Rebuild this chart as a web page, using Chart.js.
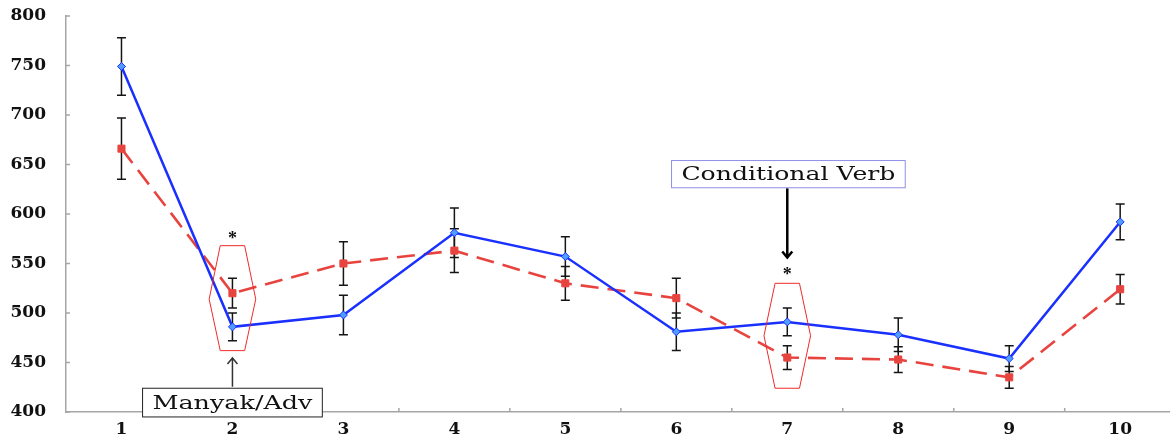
<!DOCTYPE html>
<html>
<head>
<meta charset="utf-8">
<title>Reading times</title>
<script src="https://cdn.jsdelivr.net/npm/chart.js@4"></script>
<style>
  html, body { margin: 0; padding: 0; background: #fff; }
  #wrap { width: 1175px; height: 440px; }
</style>
</head>
<body>
<div id="wrap"><canvas id="myChart" width="1175" height="440"></canvas></div>
<script>
// values
var categories = ['1', '2', '3', '4', '5', '6', '7', '8', '9', '10'];
var blueValues = [749, 486, 498, 581, 557, 481, 491, 478, 454, 592];
var blueErrors = [29, 14, 20, 25, 20, 19, 14, 17, 13, 18];
var redValues  = [666, 520, 550, 563, 530, 515, 455, 453, 435, 524];
var redErrors  = [31, 15, 22, 22, 17, 20, 12, 13, 11, 15];
var yTicks = [400, 450, 500, 550, 600, 650, 700, 750, 800];

var BLUE = '#1a30ff';
var RED = '#e8443f';

function toPoints(vals) {
    return vals.map(function (v, i) { return { x: i + 1, y: v }; });
}

// draws text stretched horizontally to a given width (the glyphs are wide in the original)
function wideText(ctx, txt, cx, cy, width) {
    var w = ctx.measureText(txt).width;
    ctx.save();
    ctx.translate(cx, cy);
    ctx.scale(width / w, 1);
    ctx.textAlign = 'center';
    ctx.textBaseline = 'middle';
    ctx.fillText(txt, 0, 0);
    ctx.restore();
}

var extras = {
    id: 'extras',
    beforeDatasetsDraw: function (chart) {
        var ctx = chart.ctx, xs = chart.scales.x, ys = chart.scales.y;
        var area = chart.chartArea;
        ctx.save();
        // inward tick marks
        ctx.strokeStyle = '#a6a6a6';
        ctx.lineWidth = 1.5;
        ctx.beginPath();
        yTicks.forEach(function (t) {
            var y = ys.getPixelForValue(t);
            ctx.moveTo(area.left, y); ctx.lineTo(area.left + 4, y);
        });
        for (var k = 1; k < categories.length; k++) {
            var x = xs.getPixelForValue(k + 0.5);
            ctx.moveTo(x, area.bottom); ctx.lineTo(x, area.bottom - 4);
        }
        ctx.stroke();

        // error bars
        ctx.strokeStyle = '#151515';
        ctx.lineWidth = 1.5;
        [[blueValues, blueErrors], [redValues, redErrors]].forEach(function (s) {
            s[0].forEach(function (v, i) {
                var x = xs.getPixelForValue(i + 1);
                var yt = ys.getPixelForValue(v + s[1][i]);
                var yb = ys.getPixelForValue(v - s[1][i]);
                ctx.beginPath();
                ctx.moveTo(x, yt); ctx.lineTo(x, yb);
                ctx.moveTo(x - 4.5, yt); ctx.lineTo(x + 4.5, yt);
                ctx.moveTo(x - 4.5, yb); ctx.lineTo(x + 4.5, yb);
                ctx.stroke();
            });
        });
        ctx.restore();
    },
    afterDatasetsDraw: function (chart) {
        var ctx = chart.ctx, xs = chart.scales.x, ys = chart.scales.y;
        var X = function (v) { return xs.getPixelForValue(v); };
        var Y = function (v) { return ys.getPixelForValue(v); };
        ctx.save();

        // red hexagons around the significant points
        function hexagon(xc, yTop, yMid, yBot) {
            ctx.beginPath();
            ctx.moveTo(X(xc - 0.11), Y(yTop));
            ctx.lineTo(X(xc + 0.11), Y(yTop));
            ctx.lineTo(X(xc + 0.21), Y(yMid));
            ctx.lineTo(X(xc + 0.11), Y(yBot));
            ctx.lineTo(X(xc - 0.11), Y(yBot));
            ctx.lineTo(X(xc - 0.21), Y(yMid));
            ctx.closePath();
            ctx.strokeStyle = '#f02a2a';
            ctx.lineWidth = 1;
            ctx.stroke();
        }
        hexagon(2, 568, 514, 462);
        hexagon(7, 530, 477, 424);

        // asterisks
        ctx.fillStyle = '#111';
        ctx.font = 'bold 18px "Liberation Serif"';
        ctx.textAlign = 'center';
        ctx.textBaseline = 'middle';
        ctx.fillText('*', X(2), Y(574));
        ctx.fillText('*', X(7), Y(538));

        // arrows
        function arrow(xc, yFrom, yTo, w, color) {
            var x = X(xc), y0 = Y(yFrom), y1 = Y(yTo);
            var dir = y1 < y0 ? 1 : -1;
            ctx.strokeStyle = color;
            ctx.lineWidth = w;
            ctx.beginPath();
            ctx.moveTo(x, y0); ctx.lineTo(x, y1);
            ctx.moveTo(x - 5, y1 + dir * 6); ctx.lineTo(x, y1); ctx.lineTo(x + 5, y1 + dir * 6);
            ctx.stroke();
        }
        arrow(2, 425.5, 454.5, 1.5, '#333');
        arrow(7, 626, 556, 2.5, '#000');

        // label boxes
        function box(xc, halfW, yTop, yBot, border, txt, textW) {
            var l = X(xc - halfW), r = X(xc + halfW), t = Y(yTop), b = Y(yBot);
            ctx.fillStyle = '#fff';
            ctx.fillRect(l, t, r - l, b - t);
            ctx.strokeStyle = border;
            ctx.lineWidth = 1;
            ctx.strokeRect(l, t, r - l, b - t);
            ctx.fillStyle = '#111';
            ctx.font = '19px "DejaVu Serif"';
            wideText(ctx, txt, (l + r) / 2, (t + b) / 2 + 1, textW);
        }
        box(2, 0.81, 424, 395, '#222', 'Manyak/Adv', 160);
        box(7.01, 1.053, 654, 626.5, '#8f8fe6', 'Conditional Verb', 214);

        ctx.restore();
    }
};

var tickFont = { family: '"DejaVu Serif"', size: 17, weight: 'bold' };

var ctx = document.getElementById('myChart').getContext('2d');
var chart = new Chart(ctx, {
    type: 'line',
    data: {
        datasets: [{
            label: 'blue',
            data: toPoints(blueValues),
            borderColor: BLUE,
            borderWidth: 2.5,
            pointStyle: 'rectRot',
            pointRadius: 4,
            pointBackgroundColor: '#4f9dff',
            pointBorderColor: BLUE,
            pointBorderWidth: 1,
            tension: 0
        }, {
            label: 'red',
            data: toPoints(redValues),
            borderColor: RED,
            borderWidth: 2.6,
            borderDash: [18, 9],
            pointStyle: 'rect',
            pointRadius: 5,
            pointBackgroundColor: RED,
            pointBorderColor: RED,
            pointBorderWidth: 1,
            tension: 0
        }]
    },
    options: {
        responsive: false,
        devicePixelRatio: 1,
        animation: false,
        layout: { padding: { top: 16, right: 0, bottom: 0, left: 0 } },
        plugins: { legend: { display: false }, tooltip: { enabled: false } },
        scales: {
            x: {
                type: 'linear',
                min: 0.5,
                max: 10.44,
                afterBuildTicks: function (scale) {
                    scale.ticks = categories.map(function (c, i) { return { value: i + 1 }; });
                },
                afterFit: function (scale) { scale.height = 28; },
                grid: { drawOnChartArea: false, drawTicks: false },
                border: { color: '#a6a6a6', width: 1.5 },
                ticks: {
                    padding: 7,
                    color: '#111',
                    font: tickFont,
                    autoSkip: false,
                    maxRotation: 0,
                    callback: function (v) { return categories[Math.round(v) - 1]; }
                }
            },
            y: {
                min: 400,
                max: 800,
                afterBuildTicks: function (scale) {
                    scale.ticks = yTicks.map(function (t) { return { value: t }; });
                },
                afterFit: function (scale) {
                    scale.width = 66;
                    scale.paddingTop = 0;
                    scale.paddingBottom = 0;
                },
                grid: { drawOnChartArea: false, drawTicks: false },
                border: { color: '#a6a6a6', width: 1.5 },
                ticks: { padding: 20, color: '#111', font: tickFont }
            }
        }
    },
    plugins: [extras]
});
</script>
</body>
</html>
